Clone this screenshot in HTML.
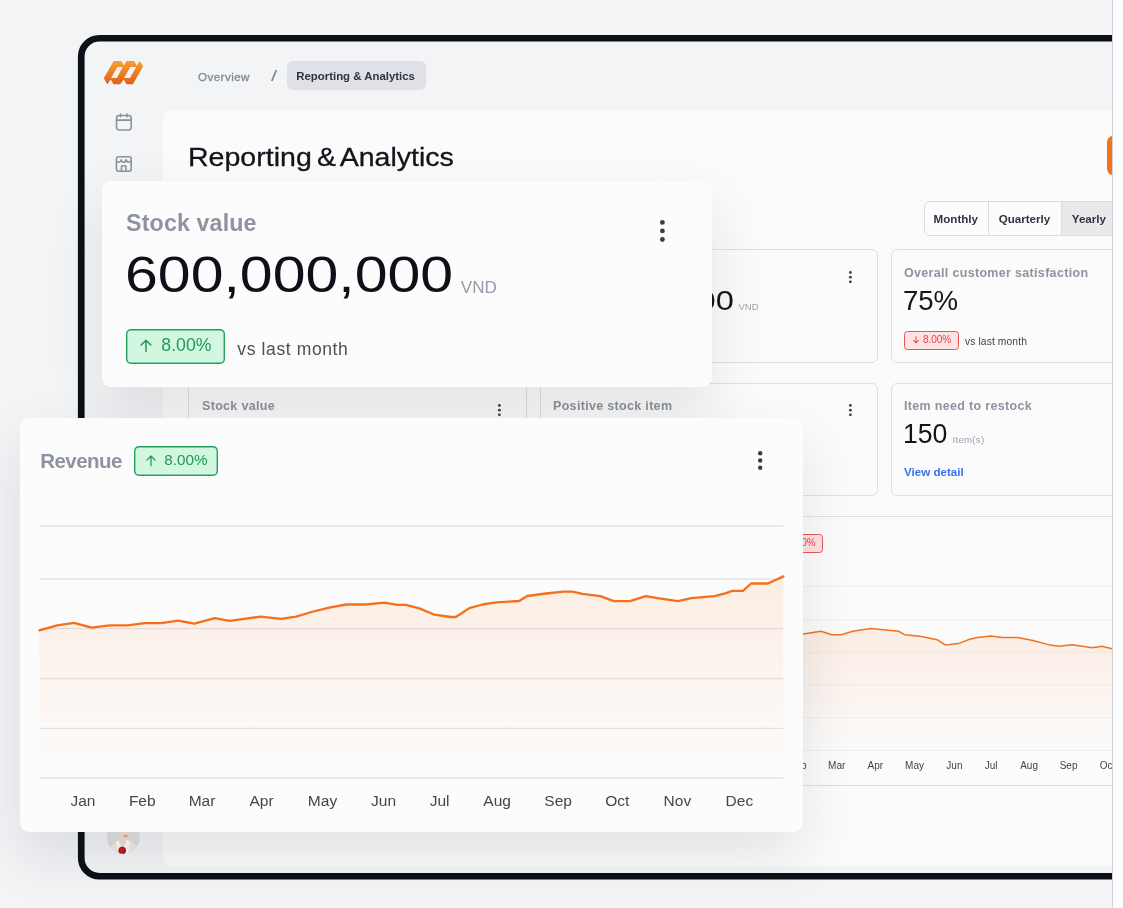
<!DOCTYPE html>
<html lang="en">
<head>
<meta charset="utf-8">
<title>Reporting &amp; Analytics</title>
<style>
*{box-sizing:border-box;margin:0;padding:0}
html,body{width:1123px;height:908px;overflow:hidden;background:#f3f4f6}
body{position:relative;font-family:"Liberation Sans",sans-serif;color:#0d1017}
.abs{position:absolute}
.t{position:absolute;white-space:nowrap;line-height:1;transform-origin:0 50%}
#stage{position:absolute;left:0;top:0;width:1112px;height:908px;overflow:hidden;background:#f3f4f6;will-change:transform}
#strip{position:absolute;left:1112px;top:0;width:11px;height:908px;background:#fcfcfc;border-left:1px solid #d0d4dd}
#panel{position:absolute;left:162.5px;top:110px;width:1100px;height:756px;background:#fbfbfb;border-radius:8px}
.card{position:absolute;border:1px solid #dddfe7;border-radius:6px;background:#fbfbfb}
.lbl{font-weight:700;color:#8d939f;font-size:12.500px;letter-spacing:.32px}
.float{position:absolute;background:#fcfcfc;border-radius:9px;box-shadow:0 24px 56px rgba(17,24,39,.105)}
.badge{position:absolute;border-radius:5px}
.g{background:#d3f6e0;box-shadow:inset 0 0 0 1.400px #23a15d;color:#1f9a57}
.r{background:#fde3e3;border:1px solid #ec5353;color:#e5484d;border-radius:3.500px}
</style>
</head>
<body>
<div id="stage">
  <svg class="abs" style="left:0;top:0" width="1112" height="908" viewBox="0 0 1112 908"><rect x="81.250" y="38.250" width="1200" height="838" rx="18.200" fill="#f3f4f6" stroke="#0d1017" stroke-width="6.700"/></svg>

  <!-- logo -->
  <svg class="abs" style="left:103px;top:60px" width="41" height="25" viewBox="0 0 41 25">
    <defs><linearGradient id="lg" x1="0" y1="0" x2="0" y2="1"><stop offset="0" stop-color="#f6a22f"/><stop offset="1" stop-color="#e35f19"/></linearGradient></defs>
    <path fill="url(#lg)" fill-rule="evenodd" d="M10.7 1 H18.2 L20.9 5.5 L23.5 1 H31 L33.7 5.5 L36.9 1 L40.1 6.6 L29.9 24.2 H23.5 L20.9 19.4 L17.1 24.2 H10.4 L7.8 19.4 L4.3 24.2 L0.8 18.3 Z M14.4 7.1 H19.7 L13.9 18.1 H8.1 Z M27.3 7.1 H33.1 L27 18.1 H21.1 Z"/>
  </svg>

  <!-- sidebar icons -->
  <svg class="abs" style="left:113.500px;top:112px" width="19" height="20" viewBox="0 0 19 20" fill="none" stroke="#8a909c" stroke-width="1.550" stroke-linecap="round" stroke-linejoin="round">
    <rect x="2.550" y="3.400" width="14.650" height="14.500" rx="2.700"/><path d="M2.550 8.100H17.200M6.450 1.900V4.800M12.950 1.900V4.800"/>
  </svg>
  <svg class="abs" style="left:113.500px;top:155px" width="19" height="19" viewBox="0 0 19 19" fill="none" stroke="#8a909c" stroke-width="1.550" stroke-linejoin="round">
    <rect x="2.400" y="1.700" width="14.800" height="14.500" rx="2.200"/><path d="M2.400 5.600C3 7.600 6.500 8.200 7.240 4.800C8 8.100 11.400 8.100 12.170 4.800C13 8.200 16.500 7.600 17.200 5.600"/><path d="M7.500 16.200V11.600a.8 .8 0 0 1 .8-.8h2.800a.8 .8 0 0 1 .8 .8V16.200"/>
  </svg>

  <!-- breadcrumb -->
  <div class="t" id="bc1" style="left:198px;top:70.500px;font-size:11.600px;font-weight:400;color:#858c98;letter-spacing:.45px;-webkit-text-stroke:.35px #858c98">Overview</div>
  <div class="t" id="bc2" style="left:270.700px;top:68px;font-size:15.500px;color:#7b828e;transform:scaleX(1.42)">/</div>
  <div class="abs" style="left:287.200px;top:61px;width:138.600px;height:28.700px;border-radius:6px;background:#dfe1e6"></div>
  <div class="t" id="bc3" style="left:296.300px;top:70.800px;font-size:11.400px;font-weight:700;color:#2d3340">Reporting &amp; Analytics</div>

  <div id="panel"></div>
  <div class="t" id="title" style="left:187.900px;top:143.700px;font-size:26.200px;color:#12151c;transform:scaleX(1.09);word-spacing:-2.500px;-webkit-text-stroke:.3px #12151c">Reporting &amp; Analytics</div>

  <!-- orange button -->
  <div class="abs" style="left:1107px;top:135.500px;width:60px;height:39.300px;border-radius:6px;background:#f97316"></div>

  <!-- segmented -->
  <div class="abs" style="left:924.300px;top:201px;width:240px;height:35px;border:1px solid #d9dce3;border-radius:6px;background:#fcfcfc;overflow:hidden">
    <div class="abs" style="left:63px;top:0;width:1px;height:100%;background:#d9dce3"></div>
    <div class="abs" style="left:136px;top:0;width:120px;height:100%;background:#e9e9eb;border-left:1px solid #d9dce3"></div>
  </div>
  <div class="t seg" id="sg1" style="left:933.600px;top:213px;font-size:11.600px;font-weight:700;color:#2d3340">Monthly</div>
  <div class="t seg" id="sg2" style="left:998.700px;top:213px;font-size:11.600px;font-weight:700;color:#2d3340">Quarterly</div>
  <div class="t seg" id="sg3" style="left:1071.800px;top:213px;font-size:11.600px;font-weight:700;color:#2d3340">Yearly</div>

  <!-- row 1 cards -->
  <div class="card" style="left:188.400px;top:249px;width:338.300px;height:113.500px"></div>
  <div class="card" style="left:540px;top:249px;width:338.300px;height:113.500px"></div>
  <div class="card" style="left:891px;top:249px;width:338.300px;height:113.500px"></div>
  <!-- row 2 cards -->
  <div class="card" style="left:188.400px;top:382.500px;width:338.300px;height:113.500px"></div>
  <div class="card" style="left:540px;top:382.500px;width:338.300px;height:113.500px"></div>
  <div class="card" style="left:891px;top:382.500px;width:338.300px;height:113.500px"></div>

  <!-- mid card row1 -->
  <div class="t" id="m00" style="left:552px;top:286.700px;font-size:27.600px;color:#12151c;transform:scaleX(1.185)">600,000,000</div>
  <div class="t" id="mvnd" style="left:738.500px;top:302px;font-size:9.500px;color:#9ca3af">VND</div>
  <svg class="abs" style="left:847.800px;top:269.850px" width="4.800" height="14.260" viewBox="0 0 4.800 14.260" fill="#3a3f47"><circle cx="2.400" cy="2.400" r="1.400"/><circle cx="2.400" cy="7.130" r="1.400"/><circle cx="2.400" cy="11.860" r="1.400"/></svg>

  <!-- card 3 row 1 -->
  <div class="t lbl" id="c3l" style="left:904px;top:266.600px">Overall customer satisfaction</div>
  <div class="t" id="c3v" style="left:902.900px;top:286.600px;font-size:27.600px;color:#12151c;transform:scaleX(1)">75%</div>
  <div class="badge r" style="left:904px;top:330.500px;width:54.500px;height:19px"></div>
  <svg class="abs" style="left:911.500px;top:336.300px" width="8" height="8" viewBox="0 0 14 15" fill="none" stroke="#e5484d" stroke-width="1.900" stroke-linecap="round" stroke-linejoin="round"><path d="M7 1.500V12.700M2.200 8L7 12.800L11.800 8"/></svg>
  <div class="t" id="c3b" style="left:923.100px;top:334.800px;font-size:10.100px;letter-spacing:-.1px;color:#e5484d">8.00%</div>
  <div class="t" id="c3m" style="left:965px;top:336.500px;font-size:10.300px;color:#3f444d;letter-spacing:.1px">vs last month</div>

  <!-- row 2 labels -->
  <div class="t lbl" id="r2a" style="left:202px;top:399.500px">Stock value</div>
  <svg class="abs" style="left:496.700px;top:403.250px" width="4.800" height="14.260" viewBox="0 0 4.800 14.260" fill="#3a3f47"><circle cx="2.400" cy="2.400" r="1.400"/><circle cx="2.400" cy="7.130" r="1.400"/><circle cx="2.400" cy="11.860" r="1.400"/></svg>
  <div class="t lbl" id="r2b" style="left:553px;top:399.500px">Positive stock item</div>
  <svg class="abs" style="left:847.800px;top:403.250px" width="4.800" height="14.260" viewBox="0 0 4.800 14.260" fill="#3a3f47"><circle cx="2.400" cy="2.400" r="1.400"/><circle cx="2.400" cy="7.130" r="1.400"/><circle cx="2.400" cy="11.860" r="1.400"/></svg>
  <div class="t lbl" id="r2c" style="left:904px;top:399.500px">Item need to restock</div>
  <div class="t" id="r2v" style="left:903px;top:419.600px;font-size:28px;color:#12151c;transform:scaleX(.95)">150</div>
  <div class="t" id="r2u" style="left:952.500px;top:435px;font-size:9.700px;color:#9ca3af;letter-spacing:.25px">Item(s)</div>
  <div class="t" id="r2d" style="left:904px;top:466px;font-size:11.600px;font-weight:700;color:#3772ea">View detail</div>

  <!-- background chart panel -->
  <div class="card" style="left:188.400px;top:515.500px;width:1040px;height:270.500px"></div>
  <div class="badge r" style="left:768.500px;top:534px;width:54.500px;height:19px"></div>
  <div class="t" id="bgb" style="left:787.400px;top:538px;font-size:10px;color:#e5484d">8.00%</div>
  <svg class="abs" style="left:189px;top:560px" width="940" height="230" viewBox="189 560 940 230">
    <defs><linearGradient id="ag2" x1="0" y1="0" x2="0" y2="1"><stop offset="0" stop-color="#f97316" stop-opacity=".105"/><stop offset="1" stop-color="#f97316" stop-opacity="0"/></linearGradient></defs>
    <g stroke="#eff0f4" stroke-width="1"><path d="M203 586.200H1130M203 620.200H1130M203 652.500H1130M203 684.900H1130M203 717.500H1130M203 750.500H1130"/></g>
    <path id="bgarea" fill="url(#ag2)" d="M780 636 L803 634 L821 631.300 L831.700 634.700 L841.300 634.700 L852.800 631.300 L870.800 628.600 L898.800 631.300 L904.600 634.700 L919.900 636.300 L937.100 639.700 L945.600 645.100 L958.200 643.600 L969.700 639.300 L977.400 637.400 L990.800 635.900 L1002.300 637.400 L1017.600 637.400 L1033 640.500 L1050.200 645.100 L1059 646.200 L1072 644.700 L1092.400 647.800 L1102 646.200 L1112 648.900 L1130 650 V750.500 H780 Z"/>
    <path fill="none" stroke="#f0731f" stroke-width="1.500" stroke-linejoin="round" d="M780 636 L803 634 L821 631.300 L831.700 634.700 L841.300 634.700 L852.800 631.300 L870.800 628.600 L898.800 631.300 L904.600 634.700 L919.900 636.300 L937.100 639.700 L945.600 645.100 L958.200 643.600 L969.700 639.300 L977.400 637.400 L990.800 635.900 L1002.300 637.400 L1017.600 637.400 L1033 640.500 L1050.200 645.100 L1059 646.200 L1072 644.700 L1092.400 647.800 L1102 646.200 L1112 648.900 L1130 650"/>
    <g font-family="Liberation Sans, sans-serif" font-size="10" fill="#3f444d" text-anchor="middle">
      <text x="798" y="768.500">Feb</text><text x="836.700" y="768.500">Mar</text><text x="875.400" y="768.500">Apr</text><text x="914.500" y="768.500">May</text><text x="954.400" y="768.500">Jun</text><text x="991.200" y="768.500">Jul</text><text x="1029.100" y="768.500">Aug</text><text x="1068.600" y="768.500">Sep</text><text x="1107.500" y="768.500">Oct</text>
    </g>
  </svg>

  <!-- avatar -->
  <svg class="abs" style="left:107.100px;top:821.200px" width="32.700" height="32.700" viewBox="0 0 32.700 32.700">
    <defs>
      <clipPath id="av"><circle cx="16.350" cy="16.350" r="16.350"/></clipPath>
      <linearGradient id="avb" x1="0" y1="0" x2="0" y2="1"><stop offset="0" stop-color="#e4e4e2"/><stop offset=".6" stop-color="#e0e0de"/><stop offset="1" stop-color="#d8d7d4"/></linearGradient>
      <radialGradient id="avf" cx=".4" cy=".4" r=".7"><stop offset="0" stop-color="#d32027"/><stop offset="1" stop-color="#8e0f14"/></radialGradient>
    </defs>
    <circle cx="16.350" cy="16.350" r="16.350" fill="url(#avb)"/>
    <g clip-path="url(#av)">
      <path d="M2 33 C3 26 6 22.500 10.500 20.500 L13 19 L19.500 19 L23 20 C28 21.500 30.500 26 31 33 Z" fill="#f3ebde"/>
      <path d="M9 20.800 L12.200 18.600 L15.500 29 L19.600 18.600 L22.500 20.300 L21.500 33 L11 33 Z" fill="#fdfcfa"/>
      <path d="M11.300 3 C11 8 11.300 13 12 17 L11.600 20 L15.600 28.500 L18.800 20.500 L18.600 17.200 C21 16.500 23 14 23 10 L23 3 Z" fill="#f3dccf"/>
      <path d="M17.300 14.500 q1.500 1.300 2.800 .6" stroke="#c9777a" stroke-width="1.100" fill="none" stroke-linecap="round"/>
      <circle cx="15.200" cy="29.600" r="3.800" fill="url(#avf)"/>
    </g>
  </svg>

  <!-- STOCK floating card -->
  <div class="float" id="stock" style="left:102.400px;top:181.300px;width:609.700px;height:205.800px"></div>
  <div class="t" id="s1" style="left:126.100px;top:212.300px;font-size:23.200px;letter-spacing:.15px;font-weight:700;color:#8d939f">Stock value</div>
  <div class="t" id="s2" style="left:125px;top:250.200px;font-size:50px;color:#0d1017;transform:scaleX(1.18)">600,000,000</div>
  <div class="t" id="s3" style="left:460.800px;top:279.300px;font-size:17.100px;color:#959ba8">VND</div>
  <svg class="abs" style="left:658.900px;top:218.900px" width="6.800" height="23.900" viewBox="0 0 6.800 23.900" fill="#3a3f47"><circle cx="3.400" cy="3.400" r="2.400"/><circle cx="3.400" cy="11.950" r="2.400"/><circle cx="3.400" cy="20.500" r="2.400"/></svg>
  <div class="badge g" style="left:126px;top:329px;width:98.500px;height:34.500px"></div>
  <svg class="abs" style="left:139px;top:338px" width="14" height="15" viewBox="0 0 14 15" fill="none" stroke="#1f9a57" stroke-width="1.500" stroke-linecap="round" stroke-linejoin="round"><path d="M7 13.500V2.300M2.200 7L7 2.200L11.800 7"/></svg>
  <div class="t" id="s4" style="left:161.300px;top:337.200px;font-size:17.700px;color:#1f9a57">8.00%</div>
  <div class="t" id="s5" style="left:237.300px;top:340.600px;font-size:17.500px;color:#4b5058;letter-spacing:.62px">vs last month</div>

  <!-- REVENUE floating card -->
  <div class="float" id="rev" style="left:19.700px;top:418px;width:783.300px;height:413.600px"></div>
  <div class="t" id="v1" style="left:40.200px;top:450.800px;font-size:20.500px;font-weight:700;color:#8d939f;letter-spacing:-.55px">Revenue</div>
  <div class="badge g" style="left:134px;top:445.500px;width:84px;height:30px"></div>
  <svg class="abs" style="left:145.400px;top:453.800px" width="12" height="13" viewBox="0 0 14 15" fill="none" stroke="#1f9a57" stroke-width="1.450" stroke-linecap="round" stroke-linejoin="round"><path d="M7 13.500V2.300M2.200 7L7 2.200L11.800 7"/></svg>
  <div class="t" id="v2" style="left:164.300px;top:452px;font-size:15.300px;color:#1f9a57">8.00%</div>
  <svg class="abs" style="left:757.400px;top:450.200px" width="6.400" height="20.900" viewBox="0 0 6.400 20.900" fill="#3a3f47"><circle cx="3.200" cy="3.200" r="2.200"/><circle cx="3.200" cy="10.450" r="2.200"/><circle cx="3.200" cy="17.700" r="2.200"/></svg>
  <svg class="abs" style="left:19.500px;top:500px" width="783" height="330" viewBox="19.500 500 783 330">
    <defs><linearGradient id="ag1" x1="0" y1="576" x2="0" y2="778" gradientUnits="userSpaceOnUse"><stop offset="0" stop-color="#f97316" stop-opacity=".11"/><stop offset="1" stop-color="#f97316" stop-opacity="0"/></linearGradient></defs>
    <g stroke="#e2e3e7" stroke-width="1.300"><path d="M39.500 526H782.800M39.500 579H782.800M39.500 628.600H782.800M39.500 678.500H782.800M39.500 728.300H782.800M39.500 778H782.800"/></g>
    <path fill="url(#ag1)" d="M38.900 630.300 L56.700 625.400 L73.600 622.900 L91.100 627.700 L109.300 625.400 L127 625.400 L144 623.200 L160.900 623.200 L177.500 620.600 L193.800 623.600 L214.300 618.200 L228.900 620.900 L260.100 616.600 L280.600 618.800 L295.700 616.600 L310.800 612 L328.600 607.700 L345.600 604.500 L365.100 604.500 L383.800 602.700 L397.200 604.900 L405.200 604.900 L418.900 608.400 L434 614.700 L450 617 L455.400 617 L468.800 608.100 L482.100 604.500 L495.500 602.400 L518.600 601 L526.700 596 L545.400 593.500 L563.200 591.700 L572.100 591.700 L581.900 593.800 L599.700 596.200 L613.400 601.100 L629.400 601.100 L645.400 596.100 L657 598.200 L677.500 601.100 L690.800 598.100 L714 596.100 L724.700 593.400 L731.800 590.800 L742.500 590.800 L750.500 583.500 L767.400 583.500 L782.900 576.400 V778 H38.900 Z"/>
    <path fill="none" stroke="#f4701b" stroke-width="2.300" stroke-linejoin="round" stroke-linecap="round" d="M38.900 630.300 L56.700 625.400 L73.600 622.900 L91.100 627.700 L109.300 625.400 L127 625.400 L144 623.200 L160.900 623.200 L177.500 620.600 L193.800 623.600 L214.300 618.200 L228.900 620.900 L260.100 616.600 L280.600 618.800 L295.700 616.600 L310.800 612 L328.600 607.700 L345.600 604.500 L365.100 604.500 L383.800 602.700 L397.200 604.900 L405.200 604.900 L418.900 608.400 L434 614.700 L450 617 L455.400 617 L468.800 608.100 L482.100 604.500 L495.500 602.400 L518.600 601 L526.700 596 L545.400 593.500 L563.200 591.700 L572.100 591.700 L581.900 593.800 L599.700 596.200 L613.400 601.100 L629.400 601.100 L645.400 596.100 L657 598.200 L677.500 601.100 L690.800 598.100 L714 596.100 L724.700 593.400 L731.800 590.800 L742.500 590.800 L750.500 583.500 L767.400 583.500 L782.900 576.400"/>
    <g font-family="Liberation Sans, sans-serif" font-size="15.500" fill="#41464f" text-anchor="middle">
      <text x="82.450" y="806.100">Jan</text><text x="141.750" y="806.100">Feb</text><text x="201.500" y="806.100">Mar</text><text x="261.100" y="806.100">Apr</text><text x="322.000" y="806.100">May</text><text x="383.100" y="806.100">Jun</text><text x="439.100" y="806.100">Jul</text><text x="496.600" y="806.100">Aug</text><text x="557.600" y="806.100">Sep</text><text x="616.800" y="806.100">Oct</text><text x="676.900" y="806.100">Nov</text><text x="738.900" y="806.100">Dec</text>
    </g>
  </svg>
</div>
<div id="strip"></div>
</body>
</html>
